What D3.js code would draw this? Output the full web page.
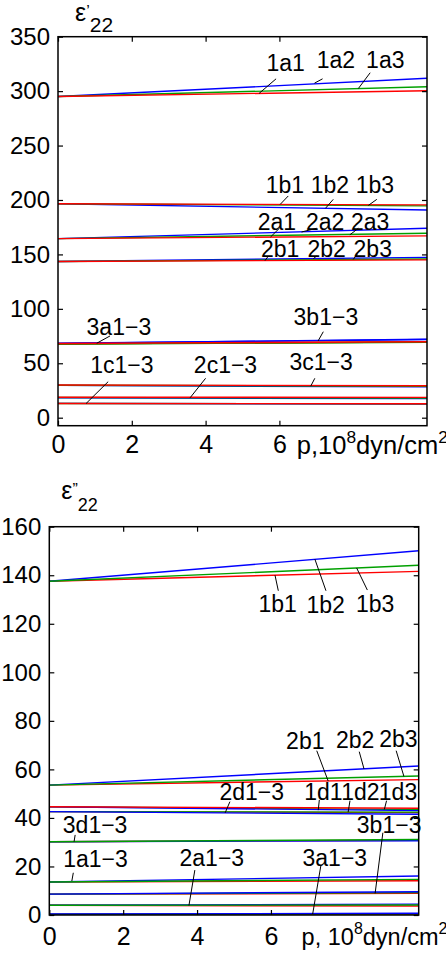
<!DOCTYPE html>
<html><head><meta charset="utf-8">
<script src="https://cdn.jsdelivr.net/npm/d3@7"></script>
<style>
body{margin:0;background:#fff}
svg{display:block}
text{font-family:"Liberation Sans",Arial,Helvetica,sans-serif;fill:#000}
</style>
</head><body>
<script>
// ---------- shared ----------
const pressure = [0, 10];
const xTicks = [0, 2, 4, 6];

// ---------- top chart: eps'22 ----------
const topYTicks = [0, 50, 100, 150, 200, 250, 300, 350];
const topNames  = ["1a2","1a3","1a1","1b2","1b3","1b1","2a2","2a3","2a1","2b2","2b3","2b1",
                   "3a2","3a3","3a1","3b2","3b3","3b1","3c2","3c3","3c1","2c2","2c3","2c1","1c2","1c3","1c1"];
const topColors = ["blue","green","red","blue","green","red","blue","green","red","blue","green","red",
                   "blue","green","red","blue","green","red","blue","green","red","blue","green","red","blue","green","red"];
const topAt0    = [295,295,295, 196.5,196.5,196.5, 164.5,164.5,164.5, 143.5,143.5,143.5,
                   68.3,67.5,68, 68.5,67.8,68.2, 29.7,29.8,30, 18.2,18.5,18.8, 13.2,13.1,13];
const topAt10   = [311.8,304,300.4, 190.8,194.6,195.5, 174,169.4,167, 147.3,145.8,145,
                   71.8,69.3,69.6, 72,69.6,69.8, 28.3,28.9,29.4, 17.5,18,18.7, 12.6,12.7,12.8];
const topLabels     = ["1a1","1a2","1a3","1b1","1b2","1b3","2a1","2a2","2a3","2b1","2b2","2b3",
                       "3a1\u22123","3b1\u22123","1c1\u22123","2c1\u22123","3c1\u22123"];
const topLabelAt    = [[6.17,318.8],[7.53,321],[8.87,321],[6.15,206.1],[7.37,206.1],[8.59,206.1],
                       [5.93,172.4],[7.24,172.4],[8.46,172.4],[6.02,147.9],[7.28,147.9],[8.53,147.9],
                       [1.65,76],[7.26,85.2],[1.73,41.3],[4.54,41.3],[7.13,43.8]];
const topLeaderFrom = [[5.91,311.3],[7.17,311.3],[8.46,316.9],[6.24,203.7],[7.46,200.6],[8.64,200.6],
                       [6.0,174],[7.01,174],[8.14,174],[5.7,148.5],[7.01,148.5],[8.11,150.4],
                       [1.41,75.1],[7.19,79],[1.36,33.1],[4.0,36.2],[6.96,36.2]];
const topLeaderTo   = [[5.45,297.9],[6.95,307.3],[8.14,302.4],[6.02,195.9],[7.25,192.4],[8.41,195],
                       [5.76,166],[6.6,170.6],[7.91,168],[5.61,144.3],[6.92,146.1],[8.0,145.3],
                       [1.05,68.4],[7.05,70.6],[0.76,13],[3.58,18.3],[6.85,29]];

// ---------- bottom chart: eps''22 ----------
const botYTicks = [0, 20, 40, 60, 80, 100, 120, 140, 160];
const botNames  = ["1b1","1b2","1b3","2b1","2b2","2b3","1d3","1d2","1d1","2d1","2d3","2d2",
                   "3d1","3d2","3d3","1a1","1a2","1a3","3b1","3b3","3b2","2a1","2a2","2a3","3a1","3a3","3a2"];
const botColors = ["red","blue","green","red","blue","green","green","blue","red","red","green","blue",
                   "red","blue","green","red","blue","green","red","green","blue","red","blue","green","red","green","blue"];
const botAt0    = [137.5,137.5,137.5, 53.5,53.5,53.5, 44.6,44.6,44.6, 42.6,42.6,42.6,
                   30.2,30.2,30.2, 13.6,13.6,13.6, 8.6,8.6,8.6, 4.0,4.0,4.0, 0.3,0.3,0.4];
const botAt10   = [141.6,150.1,144.1, 55.8,61.4,57.3, 43.4,43.0,44.0, 42.2,42.4,41.5,
                   30.8,30.6,31.1, 14.1,16.1,14.7, 8.9,9.2,9.6, 3.7,4.5,4.1, 0.4,0.5,0.7];
const botLabels     = ["1b1","1b2","1b3","2b1","2b2","2b3","2d1\u22123","1d1","1d2","1d3",
                       "3d1\u22123","3b1\u22123","1a1\u22123","2a1\u22123","3a1\u22123"];
const botLabelAt    = [[6.18,125],[7.48,124.4],[8.82,125],[6.93,68.3],[8.28,68.7],[9.45,69.1],
                       [5.48,47.4],[7.42,47.4],[8.42,47.4],[9.44,47.4],
                       [1.24,33.7],[9.2,33.7],[1.25,19.7],[4.4,20.2],[7.73,20.2]];
const botLeaderFrom = [[6.2,133.6],[7.49,133.6],[8.61,133.9],[7.24,67.7],[8.39,67.3],[9.39,67.7],
                       [4.89,46.7],[7.31,47.4],[8.14,47.1],[9.13,47.1],
                       [0.7,33],[9.03,33.9],[0.65,17.4],[3.94,18.5],[7.35,20.2]];
const botLeaderTo   = [[6.11,140],[7.19,146.6],[8.32,143],[7.55,55.2],[8.52,60.2],[9.6,57.1],
                       [4.76,42.1],[7.28,43.2],[8.09,42.4],[9.07,43.5],
                       [0.67,30.2],[8.82,8.9],[0.61,14.0],[3.78,3.9],[7.13,0.4]];

const colorMap = {red:"#ff0000", green:"#00a000", blue:"#0000ff"};

const W = 446, H = 958;
const svg = d3.select("body").append("svg").attr("width", W).attr("height", H);

function drawChart(cfg) {
  const x = d3.scaleLinear().domain(pressure).range([cfg.left, cfg.right]);
  const y = d3.scaleLinear().domain(cfg.yDomain).range([cfg.bottom, cfg.top]);
  const g = svg.append("g");
  const line = d3.line().x(d => x(d[0])).y(d => y(d[1]));

  // series
  cfg.names.forEach((n, i) => {
    g.append("path")
      .attr("d", line([[pressure[0], cfg.at0[i]], [pressure[1], cfg.at10[i]]]))
      .attr("fill", "none").attr("stroke", colorMap[cfg.colors[i]]).attr("stroke-width", 1.4);
  });

  // axes (MATLAB-style box with inward ticks)
  const tl = 5;
  const axB = g.append("g").attr("transform", `translate(0,${cfg.bottom})`)
    .call(d3.axisBottom(x).tickValues(xTicks).tickSize(-tl).tickPadding(cfg.xPad).tickFormat(d3.format("d")));
  const axT = g.append("g").attr("transform", `translate(0,${cfg.top})`)
    .call(d3.axisTop(x).tickValues(xTicks).tickSize(-tl).tickFormat(""));
  const axL = g.append("g").attr("transform", `translate(${cfg.left},0)`)
    .call(d3.axisLeft(y).tickValues(cfg.yTicks).tickSize(-tl).tickPadding(8).tickFormat(d3.format("d")));
  const axR = g.append("g").attr("transform", `translate(${cfg.right},0)`)
    .call(d3.axisRight(y).tickValues(cfg.yTicks).tickSize(-tl).tickFormat(""));
  [axB, axT, axL, axR].forEach(a => {
    a.select(".domain").remove();
    a.selectAll(".tick line").attr("stroke", "#000").attr("stroke-width", 1.2);
    a.selectAll("text").attr("font-family", "'Liberation Sans',Arial,sans-serif").attr("fill", "#000");
  });
  axB.selectAll("text").attr("font-size", 25);
  axL.selectAll("text").attr("font-size", 24);
  g.append("rect").attr("x", cfg.left).attr("y", cfg.top)
    .attr("width", cfg.right - cfg.left).attr("height", cfg.bottom - cfg.top)
    .attr("fill", "none").attr("stroke", "#000").attr("stroke-width", 1.5);

  // annotations
  cfg.labels.forEach((t, i) => {
    g.append("line")
      .attr("x1", x(cfg.from[i][0])).attr("y1", y(cfg.from[i][1]))
      .attr("x2", x(cfg.to[i][0])).attr("y2", y(cfg.to[i][1]))
      .attr("stroke", "#000").attr("stroke-width", 1);
    g.append("text").attr("x", x(cfg.labelAt[i][0])).attr("y", y(cfg.labelAt[i][1]))
      .attr("text-anchor", "middle").attr("font-size", 23).text(t);
  });

  // x axis title
  const xt = g.append("text").attr("x", x(cfg.xTitleAt)).attr("y", cfg.bottom + cfg.xTitleDy).attr("font-size", cfg.xTitleSize);
  xt.append("tspan").text(cfg.xTitle);
  xt.append("tspan").attr("font-size", cfg.xTitleSize * 0.68).attr("dy", -11).text("8");
  xt.append("tspan").attr("dy", 11).text("dyn/cm");
  xt.append("tspan").attr("font-size", cfg.xTitleSize * 0.68).attr("dy", -11).text("2");

  // y axis title
  const yt = g.append("text").attr("x", cfg.left + cfg.yTitleDx).attr("y", cfg.yTitleY).attr("font-size", 25);
  yt.append("tspan").text("\u03b5");
  yt.append("tspan").attr("font-size", 16).attr("dy", -4).text(cfg.prime);
  yt.append("tspan").attr("font-size", cfg.subSize).attr("dy", cfg.subDy).text("22");
}

drawChart({
  left: 58, right: 427, top: 36.7, bottom: 425.7, yDomain: [-7.35, 350],
  yTicks: topYTicks, names: topNames, colors: topColors, at0: topAt0, at10: topAt10,
  labels: topLabels, labelAt: topLabelAt, from: topLeaderFrom, to: topLeaderTo,
  xPad: 10, xTitle: "p,10", xTitleAt: 6.47, xTitleDy: 28, xTitleSize: 25.5,
  yTitleDx: 17, yTitleY: 21, prime: "\u2019", subSize: 21, subDy: 15
});

drawChart({
  left: 49.3, right: 418.7, top: 526.7, bottom: 915, yDomain: [0, 160],
  yTicks: botYTicks, names: botNames, colors: botColors, at0: botAt0, at10: botAt10,
  labels: botLabels, labelAt: botLabelAt, from: botLeaderFrom, to: botLeaderTo,
  xPad: 12, xTitle: "p, 10", xTitleAt: 6.83, xTitleDy: 30, xTitleSize: 23.5,
  yTitleDx: 12, yTitleY: 499, prime: "\u201d", subSize: 18, subDy: 16
});
</script>
</body></html>
